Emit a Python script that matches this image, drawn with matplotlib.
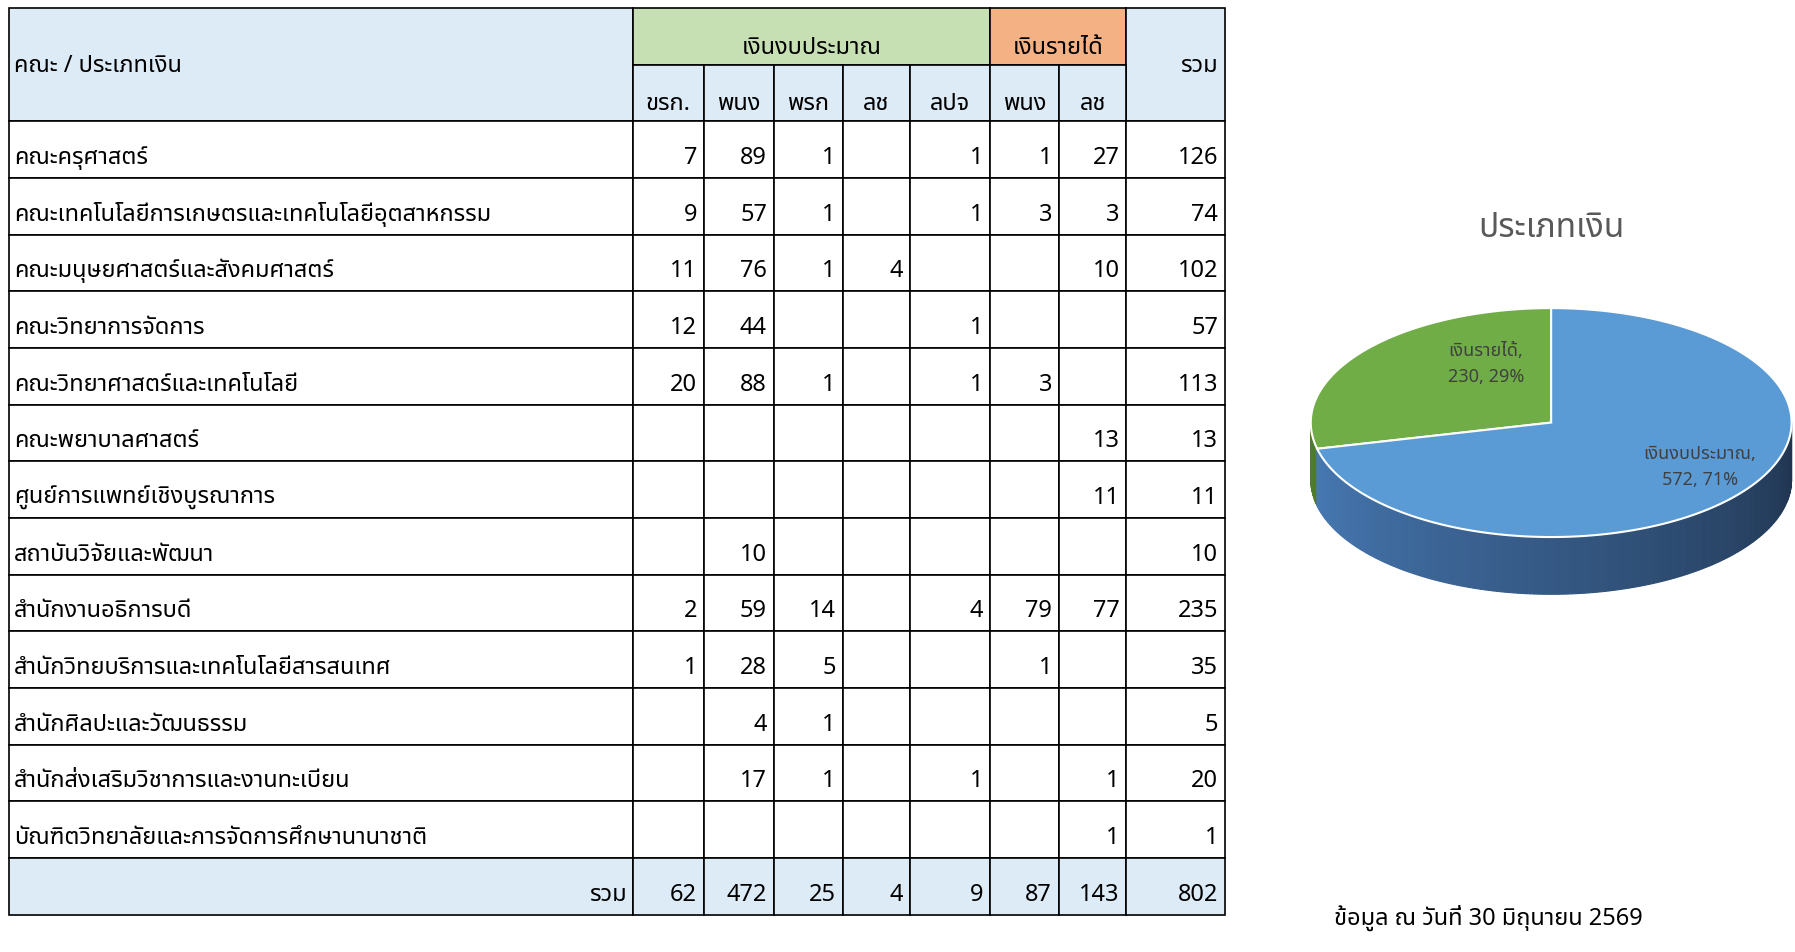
import numpy as np
import matplotlib.pyplot as plt
from matplotlib.patches import Rectangle, Polygon
from matplotlib import font_manager

# pick a font with Thai glyphs if one is installed
thai_fonts = ['Noto Sans Thai', 'Noto Sans Thai UI', 'Loma', 'Garuda', 'Tlwg Typo',
              'Norasi', 'Sawasdee', 'Kinnari', 'Umpush', 'Waree', 'Laksaman', 'Tahoma']
have = {f.name for f in font_manager.fontManager.ttflist}
fam = [f for f in thai_fonts if f in have] + ['DejaVu Sans']
plt.rcParams['font.family'] = fam

faculties = ['คณะครุศาสตร์', 'คณะเทคโนโลยีการเกษตรและเทคโนโลยีอุตสาหกรรม',
             'คณะมนุษยศาสตร์และสังคมศาสตร์', 'คณะวิทยาการจัดการ',
             'คณะวิทยาศาสตร์และเทคโนโลยี', 'คณะพยาบาลศาสตร์',
             'ศูนย์การแพทย์เชิงบูรณาการ', 'สถาบันวิจัยและพัฒนา',
             'สำนักงานอธิการบดี', 'สำนักวิทยบริการและเทคโนโลยีสารสนเทศ',
             'สำนักศิลปะและวัฒนธรรม', 'สำนักส่งเสริมวิชาการและงานทะเบียน',
             'บัณฑิตวิทยาลัยและการจัดการศึกษานานาชาติ']
sub_cols = ['ขรก.', 'พนง', 'พรก', 'ลช', 'ลปจ', 'พนง', 'ลช']
N = None
values = [
    [7, 89, 1, N, 1, 1, 27, 126],
    [9, 57, 1, N, 1, 3, 3, 74],
    [11, 76, 1, 4, N, N, 10, 102],
    [12, 44, N, N, 1, N, N, 57],
    [20, 88, 1, N, 1, 3, N, 113],
    [N, N, N, N, N, N, 13, 13],
    [N, N, N, N, N, N, 11, 11],
    [N, 10, N, N, N, N, N, 10],
    [2, 59, 14, N, 4, 79, 77, 235],
    [1, 28, 5, N, N, 1, N, 35],
    [N, 4, 1, N, N, N, N, 5],
    [N, 17, 1, N, 1, N, 1, 20],
    [N, N, N, N, N, N, 1, 1],
]
totals = [62, 472, 25, 4, 9, 87, 143, 802]
pie_labels = ['เงินงบประมาณ', 'เงินรายได้']
pie_values = [572, 230]

W, H = 1568, 1568 * 953 / 1795
fig = plt.figure(figsize=(17.95, 9.53), dpi=100)
ax = fig.add_axes([0, 0, 1, 1])
ax.set_xlim(0, W)
ax.set_ylim(H, 0)
ax.axis('off')

xs = [8, 553, 615, 676, 736, 795, 865, 925, 984, 1070]
y0, y1, y2 = 8, 58, 107
rh = (800 - y2) / 14
ys = [y2 + i * rh for i in range(15)]
blue, green, orange = '#ddebf7', '#c6e0b4', '#f4b183'
fs = 17

def cell(x0, x1, ya, yb, fc='white'):
    ax.add_patch(Rectangle((x0, ya), x1 - x0, yb - ya, fc=fc, ec='black', lw=1.2))

# header
cell(xs[0], xs[1], y0, y2, blue)
cell(xs[1], xs[6], y0, y1, green)
cell(xs[6], xs[8], y0, y1, orange)
cell(xs[8], xs[9], y0, y2, blue)
for i in range(7):
    cell(xs[i + 1], xs[i + 2], y1, y2, blue)
    ax.text((xs[i + 1] + xs[i + 2]) / 2, y2 - 6, sub_cols[i], ha='center', va='bottom',
            fontsize=fs, fontweight='bold')
ax.text(12, (y0 + y2) / 2, 'คณะ / ประเภทเงิน', ha='left', va='center', fontsize=fs, fontweight='bold')
ax.text((xs[1] + xs[6]) / 2, y1 - 6, 'เงินงบประมาณ', ha='center', va='bottom', fontsize=fs, fontweight='bold')
ax.text((xs[6] + xs[8]) / 2, y1 - 6, 'เงินรายได้', ha='center', va='bottom', fontsize=fs, fontweight='bold')
ax.text(xs[9] - 6, (y0 + y2) / 2, 'รวม', ha='right', va='center', fontsize=fs, fontweight='bold')

# body
for r, name in enumerate(faculties):
    ya, yb = ys[r], ys[r + 1]
    cell(xs[0], xs[1], ya, yb)
    ax.text(12, yb - 8, name, ha='left', va='bottom', fontsize=fs)
    for c in range(8):
        cell(xs[c + 1], xs[c + 2], ya, yb)
        v = values[r][c]
        if v is not None:
            ax.text(xs[c + 2] - 6, yb - 8, str(v), ha='right', va='bottom', fontsize=fs,
                    fontweight='bold' if c == 7 else 'normal')

ya, yb = ys[13], ys[14]
cell(xs[0], xs[1], ya, yb, blue)
ax.text(xs[1] - 6, yb - 8, 'รวม', ha='right', va='bottom', fontsize=fs, fontweight='bold')
for c in range(8):
    cell(xs[c + 1], xs[c + 2], ya, yb, blue)
    ax.text(xs[c + 2] - 6, yb - 8, str(totals[c]), ha='right', va='bottom', fontsize=fs, fontweight='bold')

# 3D-looking pie
cx, cy, rx, ry, depth = 1355, 370, 210, 100, 50
frac_inc = pie_values[1] / sum(pie_values)
t_split = 90 + 360 * frac_inc

def pt(t, dy=0):
    a = np.radians(t)
    return cx + rx * np.cos(a), cy - ry * np.sin(a) + dy

# side band, drawn as thin strips with a gradient
ts = np.linspace(180, 360, 181)
for i in range(len(ts) - 1):
    ta, tb = ts[i], ts[i + 1]
    if tb <= t_split:
        col = '#4e7a31'
    else:
        k = (ta - 180) / 180
        c1, c2 = np.array([0x4a, 0x7e, 0xbb]) / 255, np.array([0x1f, 0x33, 0x4d]) / 255
        col = tuple(c1 * (1 - k) + c2 * k)
    p = [pt(ta), pt(tb), pt(tb, depth), pt(ta, depth)]
    ax.add_patch(Polygon(p, closed=True, fc=col, ec=col, lw=0.8))

def wedge(t1, t2, col):
    tt = np.linspace(t1, t2, 200)
    p = [(cx, cy)] + [pt(t) for t in tt]
    ax.add_patch(Polygon(p, closed=True, fc=col, ec='white', lw=1.5))

wedge(90, t_split, '#70ad47')
wedge(t_split, 450, '#5b9bd5')

ax.text(1298, 318, f'{pie_labels[1]},\n{pie_values[1]}, {round(100 * frac_inc)}%',
        ha='center', va='center', fontsize=13, color='#404040', linespacing=1.6)
ax.text(1485, 408, f'{pie_labels[0]},\n{pie_values[0]}, {round(100 * (1 - frac_inc))}%',
        ha='center', va='center', fontsize=13, color='#404040', linespacing=1.6)
ax.text(1355, 200, 'ประเภทเงิน', ha='center', va='center', fontsize=24, fontweight='bold', color='#595959')
ax.text(1300, 802, 'ข้อมูล ณ วันที่ 30 มิถุนายน 2569', ha='center', va='center', fontsize=17, fontweight='bold')

fig.savefig('out.png', dpi=100)
